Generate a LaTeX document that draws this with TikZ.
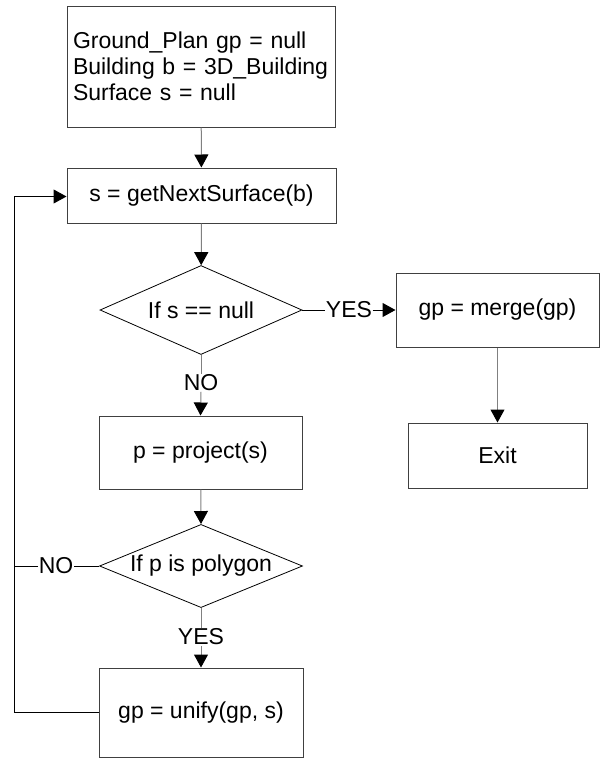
\documentclass[tikz,border=0pt]{standalone}
\usepackage{fontspec}
\setmainfont{Liberation Sans}
\usepackage{xcolor}
\usetikzlibrary{arrows.meta,shapes.geometric}
\definecolor{boxgray}{HTML}{404040}
\definecolor{linegray}{HTML}{808080}

\begin{document}
\begin{tikzpicture}[x=1pt,y=-1pt,
box/.style={draw=boxgray,line width=1pt,rectangle,inner sep=0pt,font=\fontsize{23}{25.8}\selectfont},
decision/.style={draw=black,line width=0.8pt,diamond,aspect=2.3,inner sep=0pt,font=\fontsize{23}{25.8}\selectfont},
lbl/.style={inner sep=0.5pt,font=\fontsize{23}{25.8}\selectfont},
flow/.style={line width=1pt,-{Triangle[length=13pt,width=14pt,color=black]}}]
\useasboundingbox(0,0)rectangle(601,758);
% boxes
\node[box,minimum width=268pt,minimum height=121pt,text width=256pt,align=left](init)at(201,66.5)
{Ground\_Plan gp = null\\Building b = 3D\_Building\\Surface s = null};
\node[box,minimum width=269pt,minimum height=55pt](next)at(201.5,195.5){s = getNextSurface(b)};
\node[decision,minimum width=202pt,minimum height=89pt](ifnull)at(201,310){If s == null};
\node[box,minimum width=203pt,minimum height=74pt](merge)at(497.5,310){gp = merge(gp)};
\node[box,minimum width=179pt,minimum height=65pt](exit)at(497.5,455.5){Exit};
\node[box,minimum width=203pt,minimum height=73pt](project)at(200.5,452.5){p = project(s)};
\node[decision,minimum width=203pt,minimum height=81pt](ispoly)at(201,566){If p is polygon};
\node[box,minimum width=204pt,minimum height=89pt](unify)at(201,712.5){gp = unify(gp, s)};
% labels
\node[lbl](yesA)at(349,310){YES};
\node[lbl](noA)at(201,383){NO};
\node[lbl](noB)at(56,566){NO};
\node[lbl](yesB)at(201,637){YES};
\coordinate(loopb)at(14,712.5);
\coordinate(loopt)at(14,196.5);
% connectors
\draw[flow,linegray](init)--(next);
\draw[flow,linegray](next)--(ifnull);
\draw[line width=1pt](ifnull.east)--(yesA.west);
\draw[flow](yesA.east)--(merge.west);
\draw[flow,linegray](merge)--(exit);
\draw[line width=1pt,linegray](ifnull.south)--(noA.north);
\draw[flow,linegray](noA.south)--(project.north);
\draw[flow,linegray](project)--(ispoly.north);
\draw[line width=1pt,linegray](ispoly.south)--(yesB.north);
\draw[flow,linegray](yesB.south)--(unify.north);
\draw[line width=1pt](ispoly.west)--(noB.east)
(noB.west)--(noB-|loopb);
\draw[flow](unify.west)--(loopb)--(loopt)--(next.west|-loopt);
\end{tikzpicture}
\end{document}
